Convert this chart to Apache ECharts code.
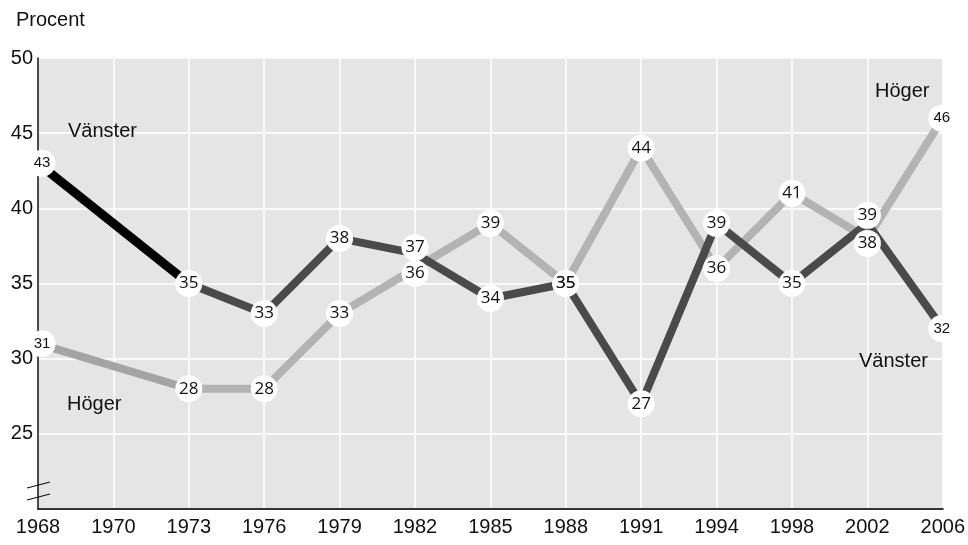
<!DOCTYPE html>
<html>
<head>
<meta charset="utf-8">
<script src="https://cdn.jsdelivr.net/npm/echarts@6/dist/echarts.min.js"></script>
<style>
html,body{margin:0;padding:0;background:#fff;}
#c{width:968px;height:545px;}
</style>
</head>
<body>
<div id="c"></div>
<script>
var years = ['1968','1970','1973','1976','1979','1982','1985','1988','1991','1994','1998','2002','2006'];
var vanster = [43, null, 35, 33, 38, 37, 34, 35, 27, 39, 35, 39, 32];
var hoger   = [31, null, 28, 28, 33, 36, 39, 35, 44, 36, 41, 38, 46];
var yTicks = [25, 30, 35, 40, 45, 50];

var firstEnd = 2; // index of 1973: the first period ends here

function segment(arr, from, to) {
  return arr.map(function (v, i) { return (i >= from && i <= to) ? v : null; });
}

// circle nudges where the two series' circles would overlap
var vOffset = {5: -6, 11: -8};
var hOffset = {5: 5, 11: 5};
var edgeShiftX = {0: 4, 12: -1};

function markers(arr, offsets) {
  return arr.map(function (v, i) {
    if (v == null) return null;
    var dy = offsets[i] || 0;
    var dx = edgeShiftX[i] || 0;
    var edge = (i === 0 || i === arr.length - 1);
    return {
      value: v,
      symbolOffset: [dx, dy],
      label: {
        fontFamily: edge ? 'Liberation Sans' : 'Open Sans',
        fontSize: edge ? 15 : 17
      }
    };
  });
}

var chart = echarts.init(document.getElementById('c'), null, {renderer: 'canvas'});

var lineBase = {
  type: 'line',
  showSymbol: false,
  symbol: 'none',
  connectNulls: true,
  silent: true,
  animation: false
};

function scatterSeries(arr, offs) {
  return {
    type: 'scatter',
    data: markers(arr, offs),
    symbol: 'circle',
    symbolSize: 27,
    itemStyle: {color: '#ffffff', opacity: 1},
    z: 5,
    animation: false,
    label: {
      show: true,
      position: 'inside',
      color: '#111',
      formatter: function (p) { return p.value; }
    }
  };
}

chart.setOption({
  animation: false,
  grid: {
    left: 38, right: 25, top: 58, bottom: 36,
    show: true, backgroundColor: '#e5e5e5', borderWidth: 0
  },
  xAxis: {
    type: 'category',
    data: years,
    boundaryGap: false,
    axisLine: {show: true, onZero: false, lineStyle: {color: '#333', width: 2}},
    axisTick: {show: false},
    axisLabel: {color: '#111', fontSize: 20, fontFamily: 'Liberation Sans', margin: 8, interval: 0},
    splitLine: {show: true, lineStyle: {color: '#ffffff', width: 1.5}}
  },
  yAxis: {
    type: 'value',
    min: 20, max: 50, interval: 5,
    axisLine: {show: true, lineStyle: {color: '#111', width: 1.5}},
    axisTick: {show: false},
    axisLabel: {
      color: '#111', fontSize: 20, fontFamily: 'Liberation Sans', margin: 5,
      formatter: function (v) { return yTicks.indexOf(v) >= 0 ? String(v) : ''; }
    },
    splitLine: {show: true, lineStyle: {color: '#ffffff', width: 1.5}}
  },
  series: [
    Object.assign({}, lineBase, {data: segment(hoger, 0, firstEnd), lineStyle: {color: '#a4a4a4', width: 8}, z: 2}),
    Object.assign({}, lineBase, {data: segment(hoger, firstEnd, years.length - 1), lineStyle: {color: '#b3b3b3', width: 8}, z: 2}),
    Object.assign({}, lineBase, {data: segment(vanster, 0, firstEnd), lineStyle: {color: '#000000', width: 9}, z: 3}),
    Object.assign({}, lineBase, {data: segment(vanster, firstEnd, years.length - 1), lineStyle: {color: '#4a4a4a', width: 8}, z: 3}),
    scatterSeries(hoger, hOffset),
    scatterSeries(vanster, vOffset)
  ],
  graphic: [
    {type: 'text', z: 100, left: 16, top: 10, style: {text: 'Procent', font: '20px "Liberation Sans"', fill: '#111'}},
    {type: 'text', z: 100, left: 68, top: 121, style: {text: 'Vänster', font: '20px "Liberation Sans"', fill: '#111'}},
    {type: 'text', z: 100, left: 67, top: 394, style: {text: 'Höger', font: '20px "Liberation Sans"', fill: '#111'}},
    {type: 'text', z: 100, left: 875, top: 81, style: {text: 'Höger', font: '20px "Liberation Sans"', fill: '#111'}},
    {type: 'text', z: 100, left: 859, top: 351, style: {text: 'Vänster', font: '20px "Liberation Sans"', fill: '#111'}},
    {type: 'line', z: 100, shape: {x1: 27, y1: 488, x2: 50, y2: 482}, style: {stroke: '#111', lineWidth: 1.2}},
    {type: 'line', z: 100, shape: {x1: 27, y1: 500, x2: 50, y2: 494}, style: {stroke: '#111', lineWidth: 1.2}}
  ]
});
</script>
</body>
</html>
